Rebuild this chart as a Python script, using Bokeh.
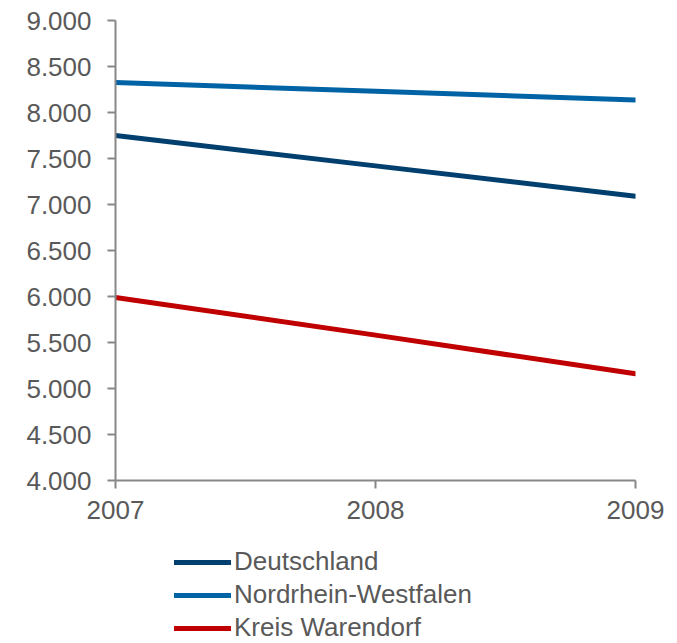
from bokeh.plotting import figure
from bokeh.models import FixedTicker, Legend, LegendItem
from bokeh.layouts import column
from bokeh.embed import file_html
from bokeh.resources import INLINE

years = [2007, 2008, 2009]
deutschland = [7750, 7420, 7090]
nrw = [8325, 8230, 8135]
warendorf = [5990, 5580, 5160]
y_ticks = [4000, 4500, 5000, 5500, 6000, 6500, 7000, 7500, 8000, 8500, 9000]
y_tick_labels = ["4.000", "4.500", "5.000", "5.500", "6.000", "6.500", "7.000", "7.500", "8.000", "8.500", "9.000"]
series_names = ["Deutschland", "Nordrhein-Westfalen", "Kreis Warendorf"]
series_colors = ["#003f6e", "#0063a6", "#c00000"]
series_values = [deutschland, nrw, warendorf]

FONT = "Liberation Sans"
TXT = "#595959"
AX = "#878787"

p = figure(width=677, height=530, output_backend="svg", toolbar_location=None,
           x_range=(2007, 2009), y_range=(4000, 9000),
           min_border_left=115, min_border_right=42, min_border_top=20, min_border_bottom=50)
p.outline_line_color = None
p.xgrid.visible = False
p.ygrid.visible = False

for vals, col in zip(series_values, series_colors):
    p.line(years, vals, line_color=col, line_width=5, line_cap="round")

p.yaxis.ticker = FixedTicker(ticks=y_ticks)
p.yaxis.major_label_overrides = {t: l for t, l in zip(y_ticks, y_tick_labels)}
p.xaxis.ticker = FixedTicker(ticks=years)
p.xaxis.major_label_overrides = {y: str(y) for y in years}

for ax in (p.xaxis[0], p.yaxis[0]):
    ax.axis_line_color = AX
    ax.axis_line_width = 2
    ax.major_tick_line_color = AX
    ax.major_tick_line_width = 2
    ax.major_tick_out = 8
    ax.major_tick_in = 0
    ax.minor_tick_line_color = None
    ax.major_label_text_font = FONT
    ax.major_label_text_font_size = "26px"
    ax.major_label_text_color = TXT
p.yaxis.major_label_standoff = 16
p.xaxis.major_label_standoff = 12

# legend panel (its frame is aligned with the chart frame by the column layout)
q = figure(width=677, height=113, output_backend="svg", toolbar_location=None,
           x_range=(0, 1), y_range=(0, 1), x_axis_location=None, y_axis_location=None,
           min_border_left=115, min_border_right=42, min_border_top=0, min_border_bottom=0)
q.outline_line_color = None
q.xgrid.visible = False
q.ygrid.visible = False
# same series drawn outside the legend panel's visible range, only to feed the legend glyphs
leg_renderers = [q.line(years, vals, line_color=c, line_width=5, line_cap="round")
                 for vals, c in zip(series_values, series_colors)]

legend = Legend(items=[LegendItem(label=n, renderers=[r]) for n, r in zip(series_names, leg_renderers)],
                location=(59, 0), orientation="vertical",
                glyph_width=57, glyph_height=22, spacing=2, label_standoff=3,
                label_text_font=FONT, label_text_font_size="26px", label_text_color=TXT,
                padding=0, margin=0, border_line_color=None, background_fill_alpha=0)
q.add_layout(legend)

layout = column(p, q, spacing=0)
open("out.html", "w").write(file_html(layout, INLINE))
